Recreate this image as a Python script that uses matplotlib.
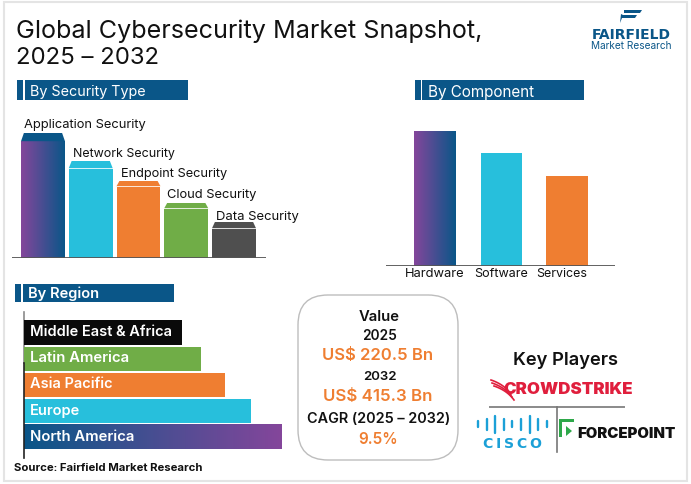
import numpy as np
import matplotlib
matplotlib.use("Agg")
import matplotlib.pyplot as plt
from matplotlib.colors import LinearSegmentedColormap
from matplotlib.patches import FancyBboxPatch, Rectangle, Polygon

W, H = 691, 485
FONT = "Inter"
BLUE = "#0A5688"
PURPLE = "#84469B"
CYAN = "#27BFDC"
ORANGE = "#EF7E31"
GREEN = "#70AD47"
DARK = "#4F4F4F"
AXIS = "#555555"

type_labels = ["Application Security", "Network Security", "Endpoint Security", "Cloud Security", "Data Security"]
type_values = [116, 89, 71, 49, 29]
type_caps = [9, 8, 6, 6, 7]
type_colors = [None, CYAN, ORANGE, GREEN, DARK]
type_cap_colors = [BLUE, CYAN, ORANGE, GREEN, DARK]

comp_labels = ["Hardware", "Software", "Services"]
comp_values = [135, 113, 90]
comp_colors = [None, CYAN, ORANGE]

region_labels = ["North America", "Europe", "Asia Pacific", "Latin America", "Middle East & Africa"]
region_values = [258, 226, 200, 176, 157]
region_colors = [None, CYAN, ORANGE, GREEN, "#0A0A0A"]

plt.rcParams["font.family"] = [FONT, "DejaVu Sans"]
fig = plt.figure(figsize=(W / 100, H / 100), dpi=100, facecolor="white")

bg = fig.add_axes([0, 0, 1, 1], zorder=0)
bg.set_xlim(0, W)
bg.set_ylim(H, 0)
bg.axis("off")
top = fig.add_axes([0, 0, 1, 1], zorder=5)
top.set_xlim(0, W)
top.set_ylim(H, 0)
top.axis("off")
top.patch.set_alpha(0)


def pixel_axes(x0, y0, x1, y1):
    ax = fig.add_axes([x0 / W, 1 - y1 / H, (x1 - x0) / W, (y1 - y0) / H], zorder=2)
    ax.patch.set_alpha(0)
    for s in ax.spines.values():
        s.set_visible(False)
    ax.set_xticks([])
    ax.set_yticks([])
    return ax


def fit(x0, x1, y, s, size=10, **kw):
    t = top.text(x0, y + 2, s, fontsize=size, va="center", ha="left", **kw)
    r = fig.canvas.get_renderer()
    w = t.get_window_extent(r).width
    t.set_fontsize(size * (x1 - x0) / w)
    return t


def grad(ax, x0, x1, y0, y1, c0, c1):
    cm = LinearSegmentedColormap.from_list("g", [c0, c1])
    arr = np.linspace(0, 1, 128).reshape(1, -1)
    ax.imshow(arr, cmap=cm, extent=(x0, x1, y0, y1), aspect="auto", zorder=2)


# frame
bg.add_patch(Rectangle((4, 3), 683, 478.5, fc="none", ec="#E4E4E4", lw=1.5))

# title
fit(16, 484, 29, "Global Cybersecurity Market Snapshot,", color="#111111")
fit(16, 160, 56, "2025 – 2032", color="#111111")

# section headers
for a, b, c, y0, y1, txt, tx0, tx1, wt in [
    (17, 23, 25, 81, 101, "By Security Type", 30, 146, "normal"),
    (415, 421, 422, 81, 101, "By Component", 428, 535, "normal"),
]:
    end = 188 if txt.endswith("Type") else 584
    bg.add_patch(Rectangle((a, y0), b - a, y1 - y0, fc=BLUE, ec="none"))
    bg.add_patch(Rectangle((c, y0), end - c, y1 - y0, fc=BLUE, ec="none"))
    fit(tx0, tx1, (y0 + y1) / 2 - 1, txt, color="white", fontweight=wt)
bg.add_patch(Rectangle((15, 285), 6, 18, fc=BLUE, ec="none"))
bg.add_patch(Rectangle((23, 285), 151, 18, fc=BLUE, ec="none"))
fit(28, 99, 292, "By Region", color="white", fontweight="semibold")

# logo
bg.add_patch(Polygon([(624, 11), (642, 11), (640, 14), (624, 14)], fc=BLUE, ec="none"))
bg.add_patch(Polygon([(623, 16), (637, 16), (635, 19), (622, 19), (620, 24), (621, 15)], fc=BLUE, ec="none"))
fit(592, 671, 33, "FAIRFIELD", color=BLUE, fontweight="bold", family="DejaVu Sans")
fit(591, 672, 44, "Market Research", color=BLUE)

# by security type
ax1 = pixel_axes(12, 129, 266, 259)
x = np.arange(len(type_values))
bw = 0.92
ax1.bar(x[1:], type_values[1:], width=bw, color=type_colors[1:], zorder=2)
grad(ax1, x[0] - bw / 2, x[0] + bw / 2, 0, type_values[0], PURPLE, BLUE)
ax1.set_xlim(-0.649, 4.67)
ax1.set_ylim(0, 130)
for i, (v, c, cc) in enumerate(zip(type_values, type_caps, type_cap_colors)):
    ax1.add_patch(Polygon([(i - bw / 2, v + 0.8), (i - bw / 2 + 0.06, v + c), (i + bw / 2 - 0.06, v + c), (i + bw / 2, v + 0.8)],
                          fc=cc, ec="none", zorder=2))
ax1.axhline(0, color=AXIS, lw=1.3, zorder=3)
ty = [123, 152, 172, 193, 215]
tx = [(24, 147), (73, 175), (121, 228), (167, 257), (216, 299)]
for s, y, (a, b) in zip(type_labels, ty, tx):
    fit(a, b, y, s, color="#111111")

# by component
ax2 = pixel_axes(386, 131, 615, 267)
cx = [435, 501.5, 567]
ax2.bar(cx[1:], comp_values[1:], width=41.5, color=comp_colors[1:], zorder=2)
grad(ax2, cx[0] - 21, cx[0] + 21, 0, comp_values[0], PURPLE, BLUE)
ax2.set_xlim(386, 615)
ax2.set_ylim(0, 136)
ax2.axhline(0, color=AXIS, lw=1.3, zorder=3)
lx = [(405, 465), (474, 528), (536, 587)]
for s, (a, b) in zip(comp_labels, lx):
    fit(a, b, 272, s, color="#111111")

# by region
ax3 = pixel_axes(24.5, 320.5, 300, 451)
y = np.arange(len(region_values))
ax3.barh(y[1:], region_values[1:], height=0.93, color=region_colors[1:], zorder=2)
grad(ax3, 0, region_values[0], -0.465, 0.465, BLUE, PURPLE)
ax3.set_xlim(0, 275.5)
ax3.set_ylim(-0.5, 4.5)
bg.plot([24, 24], [313, 364], color="#8A8A8A", lw=1.2)
top.plot([24, 24], [364, 459], color="#222222", lw=1.2)
rx = [(30, 134), (30, 80), (30, 112), (30, 129), (30, 172)]
ry = [435, 409, 382, 356, 330]
for s, yy, (a, b) in zip(region_labels, ry, rx):
    fit(a, b, yy, s, color="white", fontweight="semibold")

fit(14, 202, 466, "Source: Fairfield Market Research", color="#111111", fontweight="bold")

# value box
bg.add_patch(FancyBboxPatch((328, 326), 100, 105, boxstyle="round,pad=30,rounding_size=30",
                            fc="white", ec="#BDBDBD", lw=1))
for s, a, b, yy, c, wt in [
    ("Value", 359, 400, 315, "#111111", "semibold"),
    ("2025", 362, 397, 334, "#111111", "semibold"),
    ("US$ 220.5 Bn", 322, 433, 354, ORANGE, "semibold"),
    ("2032", 363, 397, 375, "#111111", "semibold"),
    ("US$ 415.3 Bn", 323, 432, 395, ORANGE, "semibold"),
    ("CAGR (2025 – 2032)", 307, 451, 417, "#111111", "semibold"),
    ("9.5%", 358, 398, 438, ORANGE, "semibold"),
]:
    fit(a, b, yy, s, color=c, fontweight=wt)

# key players
fit(513, 618, 359, "Key Players", color="#111111", fontweight="semibold")
RED = "#E01F3D"
fit(503, 632, 388, "CROWDSTRIKE", color=RED, fontweight="black")
swoosh_t = np.linspace(0, 1, 20)
for k, (x_s, y_s) in enumerate([(491, 381), (492, 385), (494, 389)]):
    top.plot(x_s + 20 * swoosh_t ** 0.9, y_s + 9 * swoosh_t + 5 * swoosh_t ** 3 - k, color=RED, lw=1.2)
bg.plot([490, 624], [408, 408], color="#8A8A8A", lw=1.4)
bg.plot([557, 557], [408, 453], color="#777777", lw=1.2)
CISCO = "#1BA0D7"
cisco_h = [6, 11, 17, 11, 6, 11, 17, 11, 6]
for xx, hh in zip(np.linspace(478, 547, 9), cisco_h):
    bg.plot([xx, xx], [425 - hh / 2, 425 + hh / 2], color=CISCO, lw=1.7, solid_capstyle="round")
fit(483, 542, 442, "C\u2009I\u2009S\u2009C\u2009O", color=CISCO, fontweight="bold", family="DejaVu Sans")
FP = "#2EA84A"
bg.add_patch(Polygon([(559, 420), (574, 420), (574, 423), (562, 423), (562, 438), (559, 438)], fc=FP, ec="none"))
bg.add_patch(Polygon([(566, 427), (572, 432), (566, 437)], fc=FP, ec="none"))
fit(577, 675, 432, "FORCEPOINT", color="#111111", fontweight="black")

fig.savefig("out.png", dpi=100)
